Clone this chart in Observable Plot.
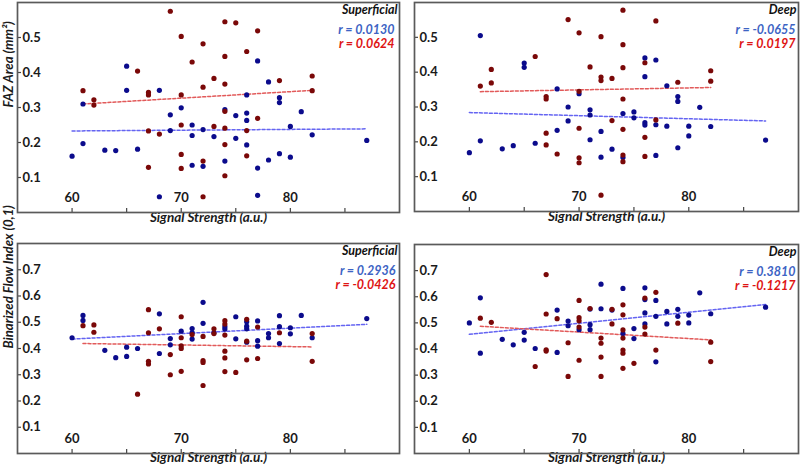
<!DOCTYPE html>
<html><head><meta charset="utf-8">
<script src="https://cdn.jsdelivr.net/npm/d3@7"></script>
<script src="https://cdn.jsdelivr.net/npm/@observablehq/plot@0.6"></script>
<style>
body{margin:0;background:#fff;}
#chart{position:relative;width:800px;height:469px;overflow:hidden;background:#fff;}
#chart svg{position:absolute;overflow:visible;}
</style></head><body><div id="chart"></div>
<script>
// ---- data ----
const xDomain = [55, 90];
const xTickLabels = [60, 70, 80];
const xTickMarks = [60, 65, 70, 75, 80, 85];
const fazTicks = [0.1, 0.2, 0.3, 0.4, 0.5];
const bfiTicks = [0.1, 0.2, 0.3, 0.4, 0.5, 0.6, 0.7];
const fazDomain = [0, 0.6];
const bfiDomain = [0, 0.8];
const layers = ["Superficial", "Deep", "Superficial", "Deep"];
const rBlue = ["0.0130", "-0.0655", "0.2936", "0.3810"];
const rRed = ["0.0624", "0.0197", "-0.0426", "-0.1217"];
const yTitles = ["FAZ Area (mm²)", "Binarized Flow Index (0,1)"];
const xTitle = "Signal Strength (a.u.)";

const fazSupBlue = [[60,0.161],[61,0.31],[61,0.197],[63,0.178],[64,0.177],[65,0.418],[65,0.349],[66,0.181],[68,0.349],[68,0.045],[69,0.279],[69,0.234],[70,0.299],[71,0.25],[71,0.22],[71,0.135],[72,0.237],[72,0.132],[73,0.217],[74,0.294],[74,0.147],[75,0.277],[75,0.212],[76,0.336],[76,0.284],[76,0.263],[76,0.193],[77,0.433],[77,0.127],[77,0.049],[78,0.373],[78,0.15],[79,0.328],[79,0.314],[79,0.168],[80,0.246],[80,0.158],[81,0.288],[82,0.222],[87,0.206]];
const fazSupRed = [[61,0.348],[62,0.322],[62,0.307],[66,0.404],[67,0.343],[67,0.336],[67,0.233],[67,0.129],[68,0.224],[69,0.575],[70,0.503],[70,0.336],[70,0.25],[70,0.166],[70,0.126],[71,0.43],[72,0.482],[72,0.358],[72,0.147],[72,0.045],[73,0.383],[73,0.246],[74,0.545],[74,0.446],[74,0.367],[74,0.289],[74,0.241],[74,0.194],[74,0.105],[75,0.542],[76,0.46],[76,0.234],[76,0.162],[77,0.519],[77,0.269],[79,0.377],[82,0.39],[82,0.348]];
const fazDeepBlue = [[60,0.169],[61,0.505],[61,0.203],[63,0.18],[64,0.189],[65,0.426],[65,0.414],[66,0.196],[68,0.352],[68,0.233],[69,0.3],[69,0.26],[70,0.338],[71,0.292],[71,0.277],[71,0.206],[72,0.23],[72,0.156],[73,0.179],[74,0.281],[74,0.155],[75,0.286],[75,0.269],[76,0.441],[76,0.387],[76,0.255],[76,0.248],[77,0.435],[77,0.249],[77,0.161],[78,0.361],[78,0.245],[79,0.33],[79,0.316],[79,0.183],[80,0.245],[80,0.217],[81,0.299],[82,0.244],[87,0.205]];
const fazDeepRed = [[61,0.36],[62,0.408],[62,0.369],[66,0.445],[67,0.33],[67,0.323],[67,0.225],[67,0.191],[68,0.165],[69,0.551],[70,0.513],[70,0.345],[70,0.239],[70,0.154],[70,0.14],[71,0.415],[72,0.502],[72,0.386],[72,0.376],[72,0.047],[73,0.382],[73,0.261],[74,0.578],[74,0.479],[74,0.413],[74,0.323],[74,0.236],[74,0.162],[74,0.143],[76,0.427],[76,0.213],[76,0.158],[77,0.547],[77,0.263],[79,0.371],[82,0.404],[82,0.374]];
const bfiSupBlue = [[60,0.441],[61,0.526],[61,0.507],[63,0.393],[64,0.365],[65,0.405],[65,0.37],[66,0.4],[68,0.532],[68,0.381],[69,0.438],[69,0.414],[70,0.466],[71,0.476],[71,0.461],[71,0.436],[72,0.576],[72,0.496],[73,0.46],[74,0.483],[74,0.474],[75,0.521],[75,0.437],[76,0.502],[76,0.485],[76,0.475],[76,0.424],[77,0.505],[77,0.43],[77,0.409],[78,0.457],[78,0.441],[79,0.525],[79,0.483],[79,0.419],[80,0.479],[80,0.456],[81,0.526],[82,0.441],[87,0.514]];
const bfiSupRed = [[61,0.487],[62,0.49],[62,0.462],[66,0.226],[67,0.548],[67,0.46],[67,0.351],[67,0.341],[68,0.475],[69,0.377],[69,0.3],[70,0.521],[70,0.441],[70,0.41],[70,0.4],[70,0.313],[71,0.453],[72,0.446],[72,0.354],[72,0.347],[72,0.259],[73,0.475],[73,0.457],[74,0.506],[74,0.493],[74,0.451],[74,0.39],[74,0.364],[74,0.312],[75,0.309],[76,0.511],[76,0.428],[76,0.357],[77,0.482],[77,0.362],[79,0.46],[82,0.457],[82,0.351]];
const bfiDeepBlue = [[60,0.5],[61,0.596],[61,0.384],[63,0.437],[64,0.416],[65,0.464],[65,0.434],[66,0.402],[68,0.549],[68,0.387],[69,0.507],[69,0.489],[70,0.474],[71,0.553],[71,0.493],[71,0.474],[72,0.648],[72,0.554],[73,0.549],[74,0.632],[74,0.459],[75,0.478],[75,0.44],[76,0.634],[76,0.589],[76,0.538],[76,0.496],[77,0.586],[77,0.525],[77,0.351],[78,0.544],[78,0.496],[79,0.552],[79,0.525],[80,0.53],[80,0.5],[81,0.615],[82,0.535],[87,0.56]];
const bfiDeepRed = [[61,0.518],[62,0.502],[66,0.333],[67,0.685],[67,0.534],[67,0.397],[67,0.392],[68,0.516],[69,0.424],[69,0.295],[70,0.586],[70,0.52],[70,0.508],[70,0.484],[70,0.357],[71,0.555],[72,0.442],[72,0.422],[72,0.369],[72,0.295],[73,0.552],[73,0.496],[74,0.569],[74,0.531],[74,0.473],[74,0.442],[74,0.396],[74,0.384],[74,0.326],[75,0.345],[76,0.595],[76,0.484],[76,0.457],[77,0.617],[77,0.396],[79,0.499],[82,0.426],[82,0.352]];

// fitted trend lines, endpoints
const fitFazSupBlue = [[60,0.233],[87,0.239]];
const fitFazSupRed = [[61,0.31],[82,0.349]];
const fitFazDeepBlue = [[60,0.284],[87,0.26]];
const fitFazDeepRed = [[61,0.344],[82,0.356]];
const fitBfiSupBlue = [[60,0.436],[87,0.492]];
const fitBfiSupRed = [[61,0.419],[82,0.406]];
const fitBfiDeepBlue = [[60,0.456],[87,0.570]];
const fitBfiDeepRed = [[61,0.487],[82,0.435]];

// ---- styling ----
const DOT_BLUE = "#0b0b8c", DOT_RED = "#7a0808";
const LINE_BLUE = "#6464f2", LINE_RED = "#e25a5a";
const TXT_BLUE = "#3d64c4", TXT_RED = "#de1414";
const FONT = "Lato, 'Open Sans', sans-serif";

const toObj = a => a.map(([x, y]) => ({x, y}));

function panel(o) {
  const pw = o.width - o.ml - o.mr, ph = o.height - o.mt - o.mb;
  const marks = [
    Plot.tickY(o.yTicks, {y: d => d, insetRight: pw - 4, stroke: "#444", strokeWidth: 1.2}),
    Plot.tickX(xTickMarks, {x: d => d, insetTop: ph - 4, stroke: "#444", strokeWidth: 1.2}),
    Plot.text(o.yTicks, {y: d => d, frameAnchor: "left", dx: 5, textAnchor: "start", text: d => d.toFixed(1), fontWeight: "bold", fontSize: 13, fill: "#1a1a1a"}),
    Plot.text(xTickLabels, {x: d => d, frameAnchor: "bottom", dy: -11, text: d => String(d), fontWeight: "bold", fontSize: 13, fill: "#1a1a1a"}),
    Plot.line(toObj(o.fitBlue), {x: "x", y: "y", stroke: LINE_BLUE, strokeWidth: 1.5, strokeDasharray: "3,2"}),
    Plot.line(toObj(o.fitRed), {x: "x", y: "y", stroke: LINE_RED, strokeWidth: 1.5, strokeDasharray: "3,2"}),
    Plot.dot(toObj(o.blue), {x: "x", y: "y", r: 2.6, fill: DOT_BLUE, stroke: "none"}),
    Plot.dot(toObj(o.red), {x: "x", y: "y", r: 2.6, fill: DOT_RED, stroke: "none"}),
    Plot.text([o.layer], {frameAnchor: "top-right", dx: -2, dy: 11, lineAnchor: "bottom", fontStyle: "italic", fontWeight: "bold", fontSize: 12.5, fill: "#111"}),
    Plot.text(["r = " + o.rB], {frameAnchor: "top-right", dx: o.rdx, dy: 31, lineAnchor: "bottom", fontStyle: "italic", fontWeight: "bold", fontSize: 12.5, fill: TXT_BLUE}),
    Plot.text(["r = " + o.rR], {frameAnchor: "top-right", dx: o.rdx, dy: 45, lineAnchor: "bottom", fontStyle: "italic", fontWeight: "bold", fontSize: 12.5, fill: TXT_RED}),
    Plot.text([xTitle], {frameAnchor: "bottom", dy: o.xtdy, fontStyle: "italic", fontWeight: "bold", fontSize: 13.5, fill: "#1a1a1a"}),
    Plot.frame({stroke: "#5a5a5a", strokeWidth: 1.7})
  ];
  if (o.yTitle) marks.push(Plot.text([o.yTitle], {frameAnchor: "left", dx: -9, rotate: -90, fontStyle: "italic", fontWeight: "bold", fontSize: 13.2, fill: "#1a1a1a"}));
  const svg = Plot.plot({
    width: o.width, height: o.height,
    marginLeft: o.ml, marginRight: o.mr, marginTop: o.mt, marginBottom: o.mb,
    x: {domain: xDomain, axis: null},
    y: {domain: o.yDomain, axis: null},
    style: {fontFamily: FONT, background: "transparent", overflow: "visible"},
    marks
  });
  svg.style.left = o.left + "px";
  svg.style.top = o.top + "px";
  document.getElementById("chart").appendChild(svg);
}

panel({left: 0, top: 0, width: 400, height: 230, ml: 17, mr: 1, mt: 2, mb: 18, xtdy: 9.5, rdx: -5,
  blue: fazSupBlue, red: fazSupRed, fitBlue: fitFazSupBlue, fitRed: fitFazSupRed,
  yDomain: fazDomain, yTicks: fazTicks, yTitle: yTitles[0], layer: layers[0], rB: rBlue[0], rR: rRed[0]});
panel({left: 400, top: 0, width: 400, height: 230, ml: 14, mr: 2, mt: 2, mb: 19, xtdy: 9.5, rdx: -3,
  blue: fazDeepBlue, red: fazDeepRed, fitBlue: fitFazDeepBlue, fitRed: fitFazDeepRed,
  yDomain: fazDomain, yTicks: fazTicks, yTitle: null, layer: layers[1], rB: rBlue[1], rR: rRed[1]});
panel({left: 0, top: 230, width: 400, height: 239, ml: 17, mr: 1, mt: 13, mb: 16, xtdy: 8.5, rdx: -4,
  blue: bfiSupBlue, red: bfiSupRed, fitBlue: fitBfiSupBlue, fitRed: fitBfiSupRed,
  yDomain: bfiDomain, yTicks: bfiTicks, yTitle: yTitles[1], layer: layers[2], rB: rBlue[2], rR: rRed[2]});
panel({left: 400, top: 230, width: 400, height: 239, ml: 14, mr: 2, mt: 14, mb: 16, xtdy: 8.5, rdx: -3,
  blue: bfiDeepBlue, red: bfiDeepRed, fitBlue: fitBfiDeepBlue, fitRed: fitBfiDeepRed,
  yDomain: bfiDomain, yTicks: bfiTicks, yTitle: null, layer: layers[3], rB: rBlue[3], rR: rRed[3]});
</script></body></html>
